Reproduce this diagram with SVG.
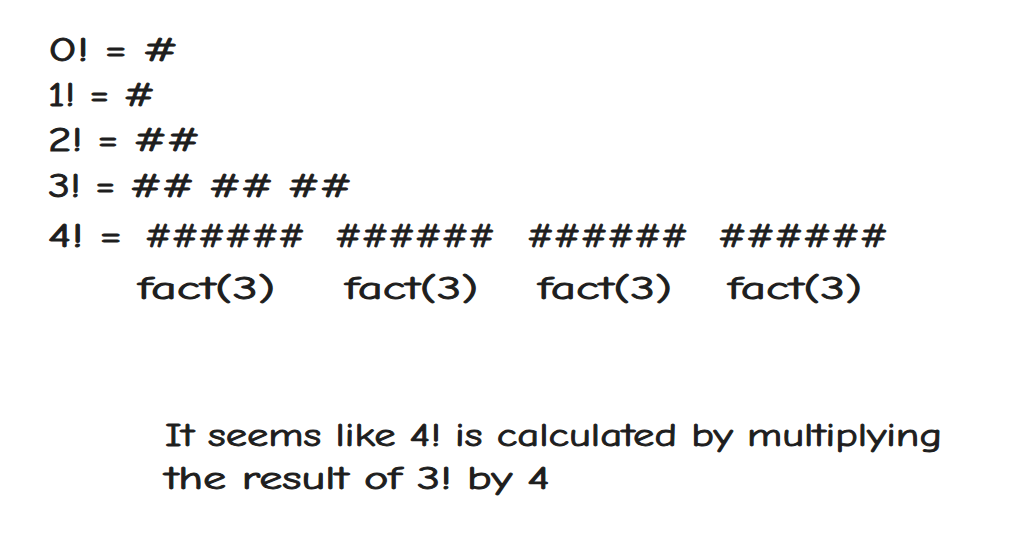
<svg xmlns="http://www.w3.org/2000/svg" width="1012" height="540" viewBox="0 0 1012 540">
<style>
text{font-family:"Comic Neue","Liberation Sans",sans-serif;fill:#1e1e1e;stroke:#1e1e1e;stroke-width:0.9px;font-size:34px}
.s{font-size:32px}
</style>
<rect width="1012" height="540" fill="#ffffff"/>
<g id="row0"><text x="48" y="61" textLength="130" lengthAdjust="spacingAndGlyphs">0! = #</text></g>
<g id="row1"><text x="48" y="106" textLength="107" lengthAdjust="spacingAndGlyphs">1! = #</text></g>
<g id="row2"><text x="48" y="151" textLength="152" lengthAdjust="spacingAndGlyphs">2! = ##</text></g>
<g id="row3"><text x="48" y="197" textLength="304" lengthAdjust="spacingAndGlyphs">3! = ## ## ##</text></g>
<g id="row4">
<text x="48" y="247" textLength="74" lengthAdjust="spacingAndGlyphs">4! =</text>
<text x="145" y="247" textLength="160" lengthAdjust="spacingAndGlyphs">######</text>
<text x="335" y="247" textLength="160" lengthAdjust="spacingAndGlyphs">######</text>
<text x="527" y="247" textLength="161" lengthAdjust="spacingAndGlyphs">######</text>
<text x="718" y="247" textLength="170" lengthAdjust="spacingAndGlyphs">######</text>
</g>
<g id="labels">
<text class="s" x="138" y="299" textLength="137" lengthAdjust="spacingAndGlyphs">fact(3)</text>
<text class="s" x="345" y="299" textLength="133" lengthAdjust="spacingAndGlyphs">fact(3)</text>
<text class="s" x="538" y="299" textLength="134" lengthAdjust="spacingAndGlyphs">fact(3)</text>
<text class="s" x="728" y="299" textLength="134" lengthAdjust="spacingAndGlyphs">fact(3)</text>
</g>
<g id="note">
<text class="s" x="165" y="446" textLength="777" lengthAdjust="spacingAndGlyphs">It seems like 4! is calculated by multiplying</text>
<text class="s" x="165" y="489" textLength="385" lengthAdjust="spacingAndGlyphs">the result of 3! by 4</text>
</g>
</svg>
